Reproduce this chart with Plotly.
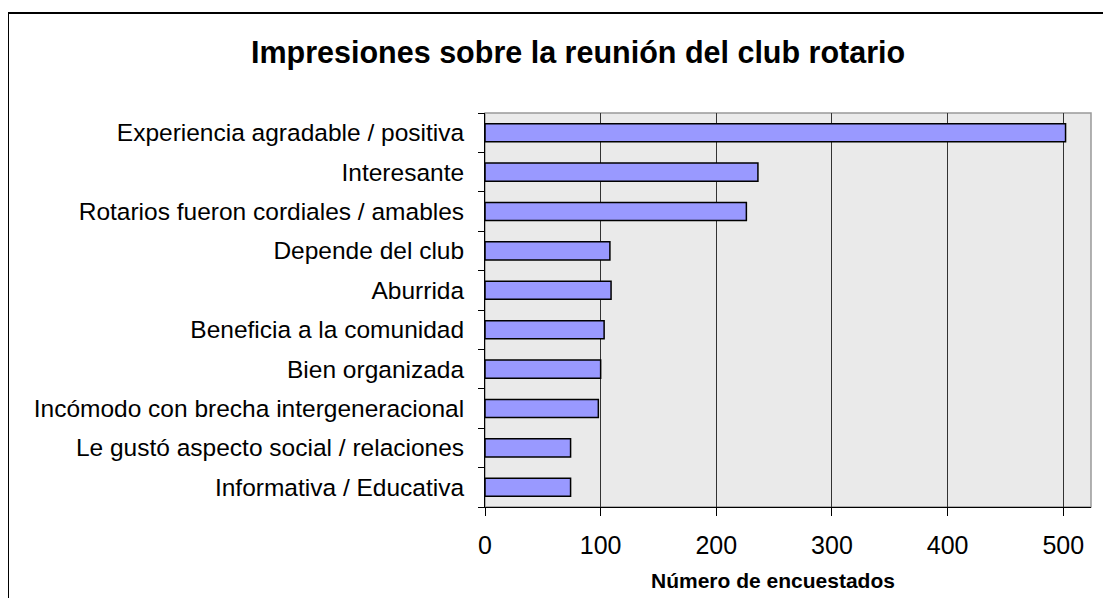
import plotly.graph_objects as go

## chart data
categories = ['Experiencia agradable / positiva', 'Interesante', 'Rotarios fueron cordiales / amables',
              'Depende del club', 'Aburrida', 'Beneficia a la comunidad', 'Bien organizada',
              'Incómodo con brecha intergeneracional', 'Le gustó aspecto social / relaciones',
              'Informativa / Educativa']
respondents = [502, 236, 226, 108, 109, 103, 100, 98, 74, 74]
x_ticks = [0, 100, 200, 300, 400, 500]

title_text = 'Impresiones sobre la reunión del club rotario'
x_title = 'Número de encuestados'

OFF = 8  # default body margin of the page
W, H = 1111 - OFF, 598 - OFF
L, R, T, B = 485 - OFF, 1091 - OFF, 113 - OFF, 507 - OFF  # plot area in pixels


def px_x(p):
    return (p - OFF - L) / (R - L)


def px_y(p):
    return (B - (p - OFF)) / (B - T)


FONT = 'Liberation Sans, Arial, sans-serif'

fig = go.Figure(go.Bar(
    x=respondents, y=categories, orientation='h',
    marker=dict(color='#9999FF', line=dict(color='black', width=1.5)),
))

fig.update_layout(
    width=W, height=H,
    margin=dict(l=L, r=W - R, t=T, b=H - B, pad=0),
    paper_bgcolor='white', plot_bgcolor='#EAEAEA',
    bargap=0.54, showlegend=False,
    font=dict(family=FONT, size=24, color='black'),
)

fig.update_xaxes(range=[0, 524], tickvals=x_ticks, showgrid=True, gridcolor='#333333', gridwidth=1,
                 zeroline=False, showline=True, linecolor='black', linewidth=1,
                 ticks='outside', ticklen=8, tickcolor='black', ticklabelstandoff=8,
                 tickfont=dict(size=25))
fig.update_yaxes(categoryorder='array', categoryarray=categories[::-1], tickson='boundaries',
                 ticks='outside', ticklen=6, tickcolor='black', showline=True, linecolor='black',
                 linewidth=1, showgrid=False, ticklabelstandoff=15, tickfont=dict(size=24.5))

# grey frame round the plot area, black frame round the whole chart
fig.add_shape(type='rect', xref='paper', yref='paper', x0=0, x1=1, y0=0, y1=1,
              line=dict(color='#999999', width=1.5), layer='below')
fig.add_shape(type='rect', xref='paper', yref='paper', x0=px_x(8), x1=px_x(1200), y0=px_y(700), y1=px_y(13),
              line=dict(color='black', width=2))

fig.add_annotation(text='<b>' + title_text + '</b>', xref='paper', yref='paper', x=px_x(578), y=px_y(53),
                   showarrow=False, font=dict(size=30.5), xanchor='center', yanchor='middle')
fig.add_annotation(text='<b>' + x_title + '</b>', xref='paper', yref='paper', x=px_x(773), y=px_y(580),
                   showarrow=False, font=dict(size=21), xanchor='center', yanchor='middle')

fig.write_html('out.html')
